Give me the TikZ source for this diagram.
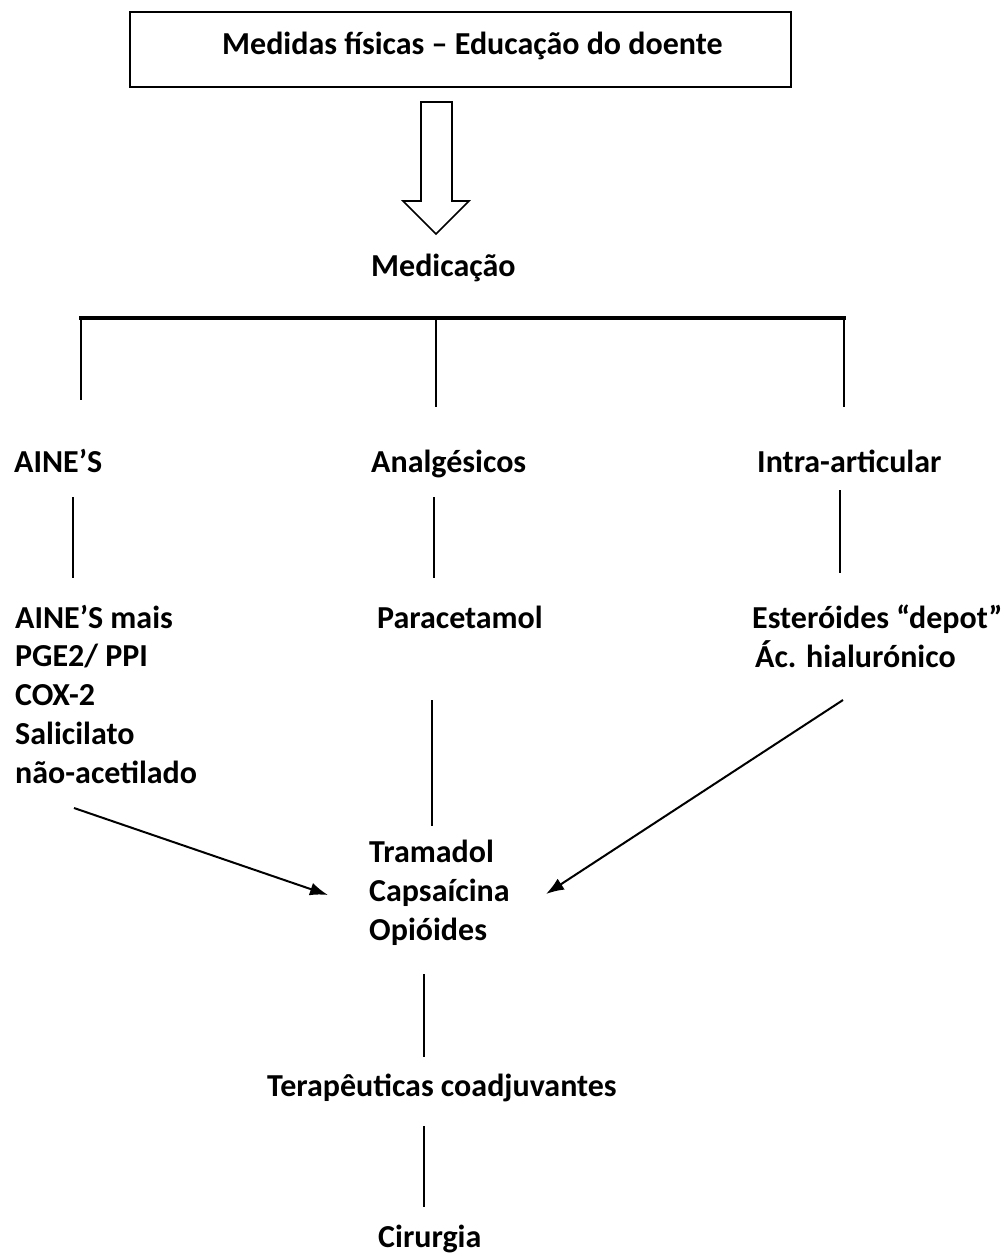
\documentclass[tikz,border=0pt]{standalone}
\usepackage{fontspec}
\setmainfont{Carlito}
\usetikzlibrary{arrows.meta}
\begin{document}
\begin{tikzpicture}[x=1pt,y=-1pt,
  lbl/.style={anchor=base west,inner sep=0pt,font=\fontsize{32}{38.7}\selectfont\bfseries},
  conn/.style={line width=2.4pt},
  arr/.style={line width=2pt,-{Latex[length=18pt,width=13pt]}}]
\useasboundingbox (0,0) rectangle (1008,1258);
% title box
\draw[line width=2.2pt] (130,12) rectangle (791,87);
\node[lbl] (title) at (222,54) {Medidas físicas – Educação do doente};
% hollow arrow
\draw[line width=1.6pt,fill=white] (421,102) -- (452,102) -- (452,201) -- (469,201) -- (436,234) -- (403,201) -- (421,201) -- cycle;
\node[lbl] (med) at (371,276) {Medicação};
% bracket
\draw[line width=4pt] (79,318) -- (846,318);
\coordinate (d1) at (81,400);
\coordinate (d2) at (436,407);
\coordinate (d3) at (844,407);
\draw[conn] (81,318) -- (d1);
\draw[conn] (436,318) -- (d2);
\draw[conn] (844,318) -- (d3);
% row of categories
\node[lbl] (aine) at (14,472) {AINE’S};
\node[lbl] (analg) at (371,472) {Analgésicos};
\node[lbl] (intra) at (757,472) {Intra-articular};
\coordinate (a1) at (73,497); \coordinate (a2) at (73,578);
\coordinate (b1) at (434,497); \coordinate (b2) at (434,578);
\coordinate (c1) at (840,490); \coordinate (c2) at (840,573);
\draw[conn] (a1) -- (a2);
\draw[conn] (b1) -- (b2);
\draw[conn] (c1) -- (c2);
% lists
\node[lbl,align=left] (ainelist) at (15,783) {AINE’S mais\\PGE2/ PPI\\COX-2\\Salicilato\\não-acetilado};
\node[lbl] (parac) at (377,628) {Paracetamol};
\node[lbl] (ester) at (752,628) {Esteróides “depot”};
\node[lbl] (hial) at (755,667) {Ác. hialurónico};
% to tramadol
\coordinate (p1) at (432,700); \coordinate (p2) at (432,826);
\draw[conn] (p1) -- (p2);
\coordinate (la) at (74,808); \coordinate (lt) at (328,895);
\coordinate (ra) at (843,700); \coordinate (rt) at (546,894);
\draw[arr] (la) -- (lt);
\draw[arr] (ra) -- (rt);
\node[lbl,align=left] (tram) at (369,940) {Tramadol\\Capsaícina\\Opióides};
\coordinate (t1) at (424,974); \coordinate (t2) at (424,1057);
\draw[conn] (t1) -- (t2);
\node[lbl] (terap) at (267,1096) {Terapêuticas coadjuvantes};
\coordinate (s1) at (424,1126); \coordinate (s2) at (424,1207);
\draw[conn] (s1) -- (s2);
\node[lbl] (cir) at (378,1247) {Cirurgia};
\end{tikzpicture}
\end{document}
